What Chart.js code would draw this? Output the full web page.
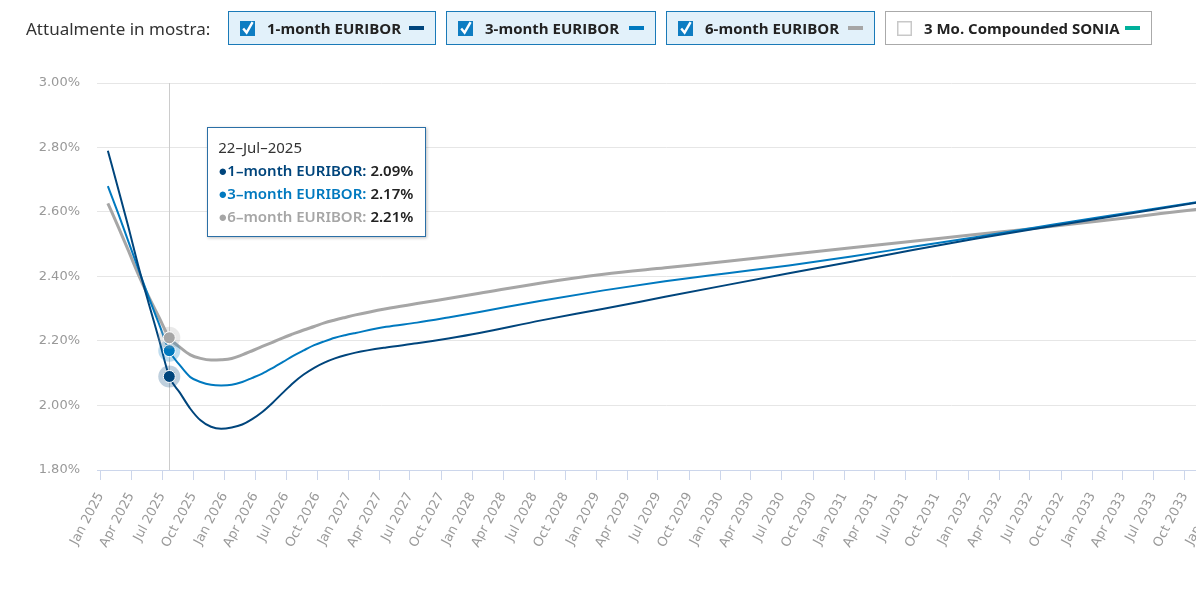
<!DOCTYPE html>
<html lang="it">
<head>
<meta charset="utf-8">
<title>EURIBOR forward curve</title>
<script src="https://cdn.jsdelivr.net/npm/chart.js@4.4.1/dist/chart.umd.min.js"></script>
<style>
  html, body { margin: 0; padding: 0; background: #fff; overflow: hidden; width: 1196px; height: 604px; }
  #wrap { position: absolute; left: 0; top: 0; width: 1240px; height: 604px; }
  #legend { position: absolute; left: 26px; top: 11px; display: flex; align-items: center; z-index: 2; }
  #legend .caption { width: 202px; font-family: "Noto Sans", sans-serif; font-size: 17px; color: #333; }
  .item { box-sizing: border-box; height: 34px; margin-right: 10px; display: flex; align-items: center;
          padding: 0 11px; border: 1px solid #1a7ab8; background: #e2f1fa;
          font-family: "Open Sans", sans-serif; font-weight: 700; font-size: 15px; color: #222; }
  .item.off { border-color: #aaa; background: #fff; }
  .item svg { margin-right: 12px; flex: none; }
  .item .sw { width: 15px; height: 4px; margin-left: auto; }
  #tip { position: absolute; display: none; box-sizing: border-box; width: 219px; padding: 8px 10px;
         background: #fff; border: 1px solid #2b6fa6; box-shadow: 1px 1px 3px rgba(0,0,0,0.25);
         font-family: "Noto Sans", sans-serif; font-size: 15px; line-height: 23px; color: #333; z-index: 3; }
  #tip .nm { font-weight: 600; }
  #tip .dot { font-size: 15px; }
  #tip b { font-weight: 600; color: #222; }
</style>
</head>
<body>
<div id="legend"><span class="caption">Attualmente in mostra:</span></div>
<div id="wrap"><canvas id="curve"></canvas></div>
<div id="tip"></div>
<script>
  // Series shown in the toggle bar
  const seriesNames = ['1-month EURIBOR', '3-month EURIBOR', '6-month EURIBOR', '3 Mo. Compounded SONIA'];
  const seriesColors = ['#00457c', '#0079bf', '#a6a6a6', '#00b09b'];
  const seriesShown = [true, true, true, false];
  const lineWidths = [2, 2, 3];

  // Forward curve points
  const curveDates = [
    '2025-01-22', '2025-02-22', '2025-03-22', '2025-04-22', '2025-05-22', '2025-06-22',
    '2025-07-22', '2025-08-22', '2025-09-22', '2025-10-22', '2025-11-22', '2025-12-22',
    '2026-01-22', '2026-02-22', '2026-03-22', '2026-04-22', '2026-05-22', '2026-06-22',
    '2026-07-22', '2026-08-22', '2026-09-22', '2026-10-22', '2026-11-22', '2026-12-22',
    '2027-01-22', '2027-04-22', '2027-07-22', '2027-10-22', '2028-01-22', '2028-07-22',
    '2029-01-22', '2029-07-22', '2030-01-22', '2030-07-22', '2031-01-22', '2031-07-22',
    '2032-01-22', '2032-07-22', '2033-01-22', '2033-07-22', '2034-01-22'
  ];
  const euribor1m = [
    2.79, 2.670, 2.560, 2.432, 2.318, 2.204,
    2.09, 2.040, 1.990, 1.954, 1.934, 1.928,
    1.932, 1.941, 1.957, 1.980, 2.008, 2.040,
    2.070, 2.096, 2.117, 2.133, 2.146, 2.156,
    2.164, 2.180, 2.193, 2.208, 2.225, 2.264,
    2.300, 2.337, 2.374, 2.410, 2.446, 2.482,
    2.517, 2.549, 2.580, 2.611, 2.642
  ];
  const euribor3m = [
    2.68, 2.594, 2.513, 2.423, 2.337, 2.252,
    2.17, 2.125, 2.088, 2.073, 2.064, 2.062,
    2.064, 2.073, 2.085, 2.099, 2.116, 2.135,
    2.154, 2.171, 2.187, 2.199, 2.210, 2.218,
    2.225, 2.244, 2.257, 2.273, 2.290, 2.325,
    2.357, 2.385, 2.410, 2.434, 2.462, 2.492,
    2.522, 2.553, 2.584, 2.613, 2.643
  ];
  const euribor6m = [
    2.627, 2.553, 2.484, 2.406, 2.338, 2.273,
    2.21, 2.181, 2.157, 2.146, 2.141, 2.142,
    2.146, 2.157, 2.169, 2.183, 2.196, 2.210,
    2.222, 2.234, 2.245, 2.256, 2.265, 2.273,
    2.281, 2.300, 2.316, 2.332, 2.348, 2.380,
    2.407, 2.427, 2.447, 2.468, 2.489, 2.509,
    2.530, 2.550, 2.572, 2.595, 2.618
  ];

  // Axis ticks
  const tickYears = [2025, 2026, 2027, 2028, 2029, 2030, 2031, 2032, 2033, 2034];
  const tickMonths = ['Jan', 'Apr', 'Jul', 'Oct'];
  const yTicks = [1.8, 2.0, 2.2, 2.4, 2.6, 2.8, 3.0];
  const monthNames = ['Jan', 'Feb', 'Mar', 'Apr', 'May', 'Jun', 'Jul', 'Aug', 'Sep', 'Oct', 'Nov', 'Dec'];
  const hoverDate = '2025-07-22';

  function toTime(s) {
    return Date.UTC(+s.slice(0, 4), +s.slice(5, 7) - 1, +s.slice(8, 10));
  }

  // build the toggle bar
  const legendEl = document.getElementById('legend');
  const itemWidths = [208, 210, 209, 267];
  seriesNames.forEach((name, i) => {
    const item = document.createElement('div');
    item.className = seriesShown[i] ? 'item' : 'item off';
    item.style.width = itemWidths[i] + 'px';
    const box = seriesShown[i]
      ? '<svg width="15" height="16" viewBox="0 0 15 16"><rect y="1" width="15" height="15" fill="#0e7dc2"/><path d="M3.2 8.5 L6.6 12.6 L12.6 2.2" stroke="#fff" stroke-width="2.4" fill="none"/></svg>'
      : '<svg width="15" height="16" viewBox="0 0 15 16"><rect x="0.75" y="1.75" width="13.5" height="13.5" fill="#fff" stroke="#c8c8c8" stroke-width="1.5"/></svg>';
    item.innerHTML = box + '<span>' + name + '</span><span class="sw" style="background:' + seriesColors[i] + '"></span>';
    legendEl.appendChild(item);
  });

  // quarterly ticks, Jan 2025 .. Jan 2034
  const xTicks = [];
  const xTickLabels = {};
  tickYears.forEach(y => {
    tickMonths.forEach((m, q) => {
      const t = Date.UTC(y, q * 3, 1);
      if (t <= Date.UTC(2034, 0, 1)) {
        xTicks.push(t);
        xTickLabels[t] = m + ' ' + y;
      }
    });
  });

  const seriesData = [euribor1m, euribor3m, euribor6m];
  const datasets = seriesData.map((vals, i) => ({
    label: seriesNames[i],
    data: curveDates.map((d, k) => ({ x: toTime(d), y: vals[k] })),
    borderColor: seriesColors[i],
    backgroundColor: seriesColors[i],
    borderWidth: lineWidths[i],
    cubicInterpolationMode: 'monotone',
    pointRadius: 0,
    pointHoverRadius: 6,
    pointHoverBorderWidth: 1,
    pointHoverBorderColor: '#ffffff',
    pointHoverBackgroundColor: seriesColors[i]
  }));

  function fmtDate(t) {
    const d = new Date(t);
    return String(d.getUTCDate()).padStart(2, '0') + '–' + monthNames[d.getUTCMonth()] + '–' + d.getUTCFullYear();
  }

  // crosshair + halo around hovered points
  const hoverMarks = {
    id: 'hoverMarks',
    beforeDatasetsDraw(chart) {
      const act = chart.getActiveElements();
      if (!act.length) return;
      const ctx = chart.ctx;
      const area = chart.chartArea;
      const x = Math.round(act[0].element.x) + 0.5;
      ctx.save();
      ctx.strokeStyle = '#cccccc';
      ctx.lineWidth = 1;
      ctx.beginPath();
      ctx.moveTo(x, area.top);
      ctx.lineTo(x, area.bottom);
      ctx.stroke();
      ctx.restore();
    },
    afterDatasetsDraw(chart) {
      const ctx = chart.ctx;
      chart.getActiveElements().forEach(a => {
        ctx.save();
        ctx.globalAlpha = 0.25;
        ctx.fillStyle = seriesColors[a.datasetIndex];
        ctx.beginPath();
        ctx.arc(a.element.x, a.element.y, 11, 0, Math.PI * 2);
        ctx.fill();
        ctx.restore();
        a.element.draw(ctx);
      });
    }
  };

  function htmlTooltip(context) {
    const chart = context.chart;
    const tooltip = context.tooltip;
    const tip = document.getElementById('tip');
    if (tooltip.opacity === 0 || !tooltip.dataPoints) {
      tip.style.display = 'none';
      return;
    }
    let html = '<div>' + fmtDate(tooltip.dataPoints[0].parsed.x) + '</div>';
    tooltip.dataPoints.forEach(p => {
      const c = seriesColors[p.datasetIndex];
      const name = p.dataset.label.replace('-', '–');
      html += '<div><span class="dot" style="color:' + c + '">●</span><span class="nm" style="color:' + c + '">' +
        name + ':</span> <b>' + p.parsed.y.toFixed(2) + '%</b></div>';
    });
    tip.innerHTML = html;
    tip.style.display = 'block';
    tip.style.left = (chart.canvas.offsetLeft + tooltip.caretX + 38) + 'px';
    tip.style.top = (chart.chartArea.top + 44) + 'px';
  }

  Chart.defaults.font.family = '"DejaVu Sans", sans-serif';

  const ctx = document.getElementById('curve').getContext('2d');
  const curveChart = new Chart(ctx, {
    type: 'line',
    data: { datasets: datasets },
    plugins: [hoverMarks],
    options: {
      responsive: true,
      maintainAspectRatio: false,
      devicePixelRatio: 1,
      animation: false,
      events: [],
      layout: { padding: { top: 83, left: 0, right: 0, bottom: 0 } },
      interaction: { mode: 'index', intersect: false },
      scales: {
        x: {
          type: 'linear',
          min: Date.UTC(2024, 11, 21),
          max: Date.UTC(2034, 2, 1),
          afterBuildTicks: scale => { scale.ticks = xTicks.map(v => ({ value: v })); },
          afterFit: scale => { scale.height = 134; },
          grid: { drawOnChartArea: false, drawTicks: true, tickLength: 10, color: '#ccd6eb' },
          border: { color: '#ccd6eb', width: 1 },
          ticks: {
            autoSkip: false,
            minRotation: 62,
            maxRotation: 62,
            padding: 10,
            color: '#999999',
            font: { size: 13 },
            callback: v => xTickLabels[v] || ''
          }
        },
        y: {
          min: 1.8,
          max: 3.0,
          afterBuildTicks: scale => { scale.ticks = yTicks.map(v => ({ value: v })); },
          afterFit: scale => { scale.width = 97; },
          grid: { color: '#e6e6e6', drawTicks: false },
          border: { display: false },
          ticks: {
            padding: 17,
            color: '#999999',
            font: { size: 13 },
            callback: v => v.toFixed(2) + '%'
          }
        }
      },
      plugins: {
        legend: { display: false },
        tooltip: { enabled: false, external: htmlTooltip }
      }
    }
  });

  // show the tooltip for 22-Jul-2025 like in the screenshot
  const hoverIndex = curveDates.indexOf(hoverDate);
  const active = datasets.map((d, i) => ({ datasetIndex: i, index: hoverIndex }));
  curveChart.setActiveElements(active);
  const firstPoint = curveChart.getDatasetMeta(0).data[hoverIndex];
  curveChart.tooltip.setActiveElements(active, { x: firstPoint.x, y: firstPoint.y });
  curveChart.update();
</script>
</body>
</html>
